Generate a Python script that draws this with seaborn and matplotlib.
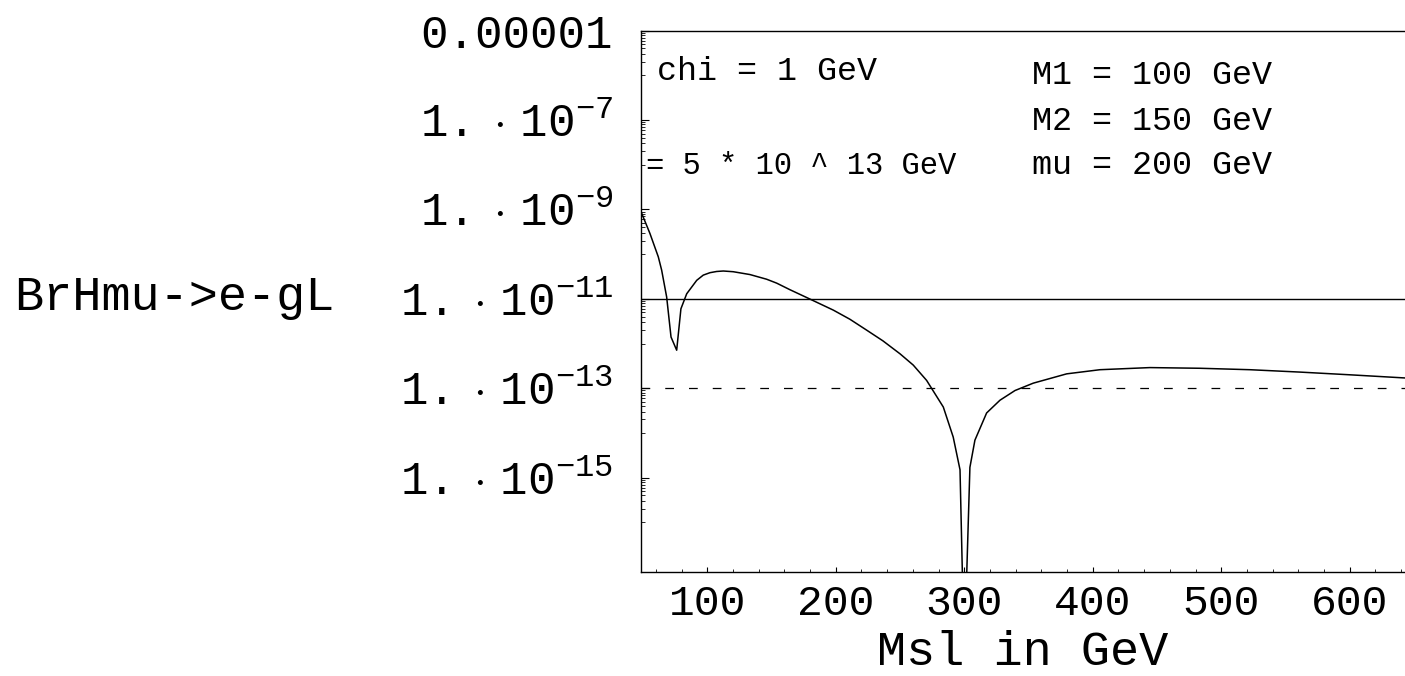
import matplotlib
matplotlib.use("Agg")
import matplotlib.pyplot as plt
import seaborn as sns
import pandas as pd
from matplotlib.ticker import FixedLocator, FixedFormatter, NullFormatter

# ---- data ----
msl = [48.2, 55.4, 61.9, 64.5, 68.4, 71.8, 76.2, 79.5, 84.0, 91.8, 96.9, 102.1,
       107.3, 112.5, 120.2, 133.2, 146.2, 154.0, 164.4, 177.4, 198.1, 211.0, 224.0,
       236.7, 250.0, 260.3, 270.7, 283.7, 291.4, 296.7, 300.0,
       304.4, 308.3, 317.4, 327.8, 339.5, 353.7, 379.7, 405.6, 444.5, 483.4, 522.3,
       561.2, 600.1, 642.9]
br = [9.3e-10, 2.9e-10, 8.7e-11, 4.4e-11, 1.1e-11, 1.4e-12, 7.1e-13, 6.0e-12,
      1.3e-11, 2.6e-11, 3.4e-11, 3.85e-11,
      4.1e-11, 4.2e-11, 4.05e-11, 3.5e-11, 2.75e-11, 2.25e-11, 1.6e-11, 1.07e-11,
      5.6e-12, 3.5e-12, 2.0e-12,
      1.15e-12, 5.9e-13, 3.3e-13, 1.5e-13, 3.8e-14, 8.1e-15, 1.5e-15, 1e-19,
      1.7e-15, 6.9e-15, 2.8e-14, 5.4e-14, 8.9e-14, 1.3e-13, 2.1e-13, 2.6e-13, 2.9e-13,
      2.8e-13, 2.6e-13, 2.3e-13, 2.0e-13, 1.7e-13]
bound_now = 1e-11
bound_future = 1e-13

x_ticks = [100, 200, 300, 400, 500, 600]
x_tick_labels = ["100", "200", "300", "400", "500", "600"]
y_ticks = [1e-5, 1e-7, 1e-9, 1e-11, 1e-13, 1e-15]
y_tick_labels = ["0.00001",
                 r"$\mathrm{1.}\;\cdot\;\mathrm{10}^{-7}$",
                 r"$\mathrm{1.}\;\cdot\;\mathrm{10}^{-9}$",
                 r"$\mathrm{1.}\;\cdot\;\mathrm{10}^{-11}$",
                 r"$\mathrm{1.}\;\cdot\;\mathrm{10}^{-13}$",
                 r"$\mathrm{1.}\;\cdot\;\mathrm{10}^{-15}$"]
param_texts_left = ["chi = 1 GeV", "= 5 * 10 ^ 13 GeV"]
param_texts_right = ["M1 = 100 GeV", "M2 = 150 GeV", "mu = 200 GeV"]

sns.set_theme(style="white")
plt.rcParams["font.family"] = ["Liberation Mono", "DejaVu Sans"]
plt.rcParams["mathtext.fontset"] = "custom"
plt.rcParams["mathtext.rm"] = "Liberation Mono"
plt.rcParams["mathtext.it"] = "Liberation Mono:italic"
plt.rcParams["mathtext.bf"] = "Liberation Mono:bold"

fig = plt.figure(figsize=(14.05, 6.76), dpi=100)
ax = fig.add_axes([640.7 / 1405, 1 - 571.5 / 676, 764.3 / 1405, 540.8 / 676])

df = pd.DataFrame({"Msl": msl, "Br": br})
sns.lineplot(data=df, x="Msl", y="Br", ax=ax, color="black", lw=1.1,
             estimator=None, sort=False)
ax.axhline(bound_now, color="black", lw=1.0)
ax.axhline(bound_future, color="black", lw=0.9, linestyle=(0, (7, 12)))

ax.set_yscale("log")
ax.set_xlim(48.2, 643.0)
ax.set_ylim(10 ** -17.1, 1e-5)

ax.xaxis.set_major_locator(FixedLocator(x_ticks))
ax.xaxis.set_major_formatter(FixedFormatter(x_tick_labels))
ax.xaxis.set_minor_locator(FixedLocator([v for v in range(60, 650, 20) if v % 100 != 0]))
ax.yaxis.set_major_locator(FixedLocator(y_ticks))
ax.yaxis.set_major_formatter(FixedFormatter(y_tick_labels))
ax.yaxis.set_minor_locator(FixedLocator([k * 10.0 ** m for m in (-6, -8, -10, -12, -14, -16)
                                         for k in range(1, 10)]))
ax.yaxis.set_minor_formatter(NullFormatter())

ax.tick_params(axis="y", which="major", direction="in", length=5.8, width=0.8,
               labelsize=33, pad=20, left=True, colors="black")
ax.tick_params(axis="y", which="minor", direction="in", length=3.0, width=0.7, left=True)
ax.tick_params(axis="x", which="major", direction="in", length=3.6, width=0.8,
               labelsize=31, pad=9, bottom=True, colors="black")
ax.tick_params(axis="x", which="minor", direction="in", length=2.2, width=0.7, bottom=True)

for s in ("left", "bottom", "top"):
    ax.spines[s].set_visible(True)
    ax.spines[s].set_color("black")
    ax.spines[s].set_linewidth(1.0)
ax.spines["right"].set_visible(False)

ax.set_xlabel("Msl in GeV", fontsize=35, color="black", labelpad=4)
ax.set_ylabel("BrHmu->e-gL", fontsize=35, color="black", rotation=0,
              ha="left", va="center")
ax.yaxis.set_label_coords((14 - 640.7) / 764.3, (571.5 - 297) / 540.8)

ax.text(0.0213, 0.924, param_texts_left[0], transform=ax.transAxes, fontsize=24,
        va="center", ha="left", color="black")
ax.text(0.007, 0.750, param_texts_left[1], transform=ax.transAxes, fontsize=22,
        va="center", ha="left", color="black")
for t, yy in zip(param_texts_right, (0.918, 0.833, 0.750)):
    ax.text(0.512, yy, t, transform=ax.transAxes, fontsize=24,
            va="center", ha="left", color="black")

fig.savefig("out.png", dpi=100, facecolor="white")
